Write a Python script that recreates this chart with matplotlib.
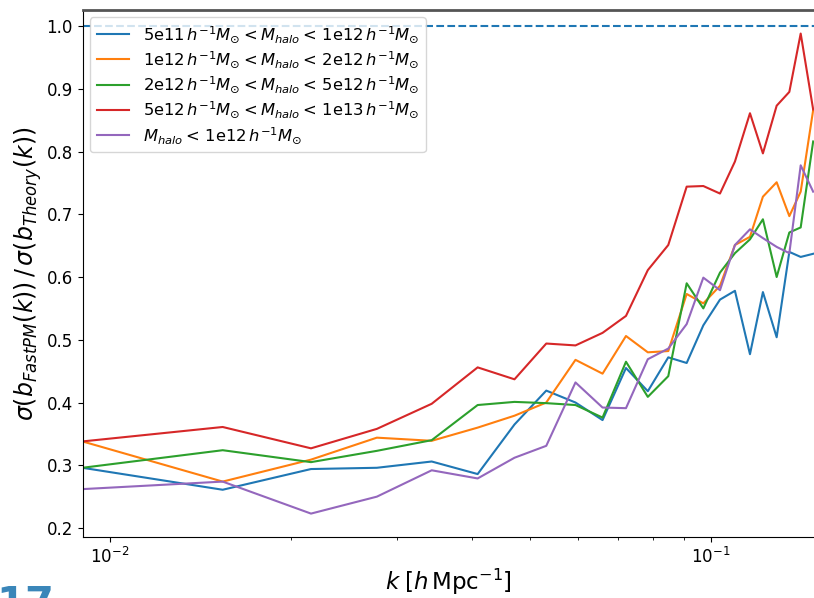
import numpy as np
import matplotlib
matplotlib.use("Agg")
import matplotlib.pyplot as plt

k = [0.0090, 0.0154, 0.0216, 0.0278, 0.0343, 0.0409, 0.0471, 0.0532, 0.0595,
     0.0660, 0.0722, 0.0785, 0.0849, 0.0911, 0.0971, 0.1035, 0.1096, 0.1161,
     0.1220, 0.1286, 0.1350, 0.1410, 0.1479]

blue = [0.296, 0.261, 0.294, 0.296, 0.306, 0.286, 0.365, 0.419, 0.400, 0.372,
        0.455, 0.418, 0.472, 0.463, 0.523, 0.564, 0.578, 0.477, 0.576, 0.504,
        0.640, 0.632, 0.637]
orange = [0.338, 0.274, 0.309, 0.344, 0.339, 0.360, 0.379, 0.400, 0.468, 0.446,
          0.506, 0.480, 0.482, 0.573, 0.558, 0.586, 0.651, 0.664, 0.728, 0.751,
          0.697, 0.736, 0.866]
green = [0.296, 0.324, 0.305, 0.323, 0.340, 0.396, 0.401, 0.399, 0.396, 0.376,
         0.465, 0.409, 0.442, 0.590, 0.550, 0.607, 0.638, 0.660, 0.692, 0.600,
         0.671, 0.679, 0.816]
red = [0.338, 0.361, 0.327, 0.358, 0.398, 0.456, 0.437, 0.494, 0.491, 0.511,
       0.538, 0.611, 0.651, 0.744, 0.745, 0.733, 0.784, 0.861, 0.797, 0.873,
       0.895, 0.988, 0.867]
purple = [0.262, 0.274, 0.223, 0.250, 0.292, 0.279, 0.312, 0.331, 0.432, 0.392,
          0.391, 0.469, 0.486, 0.525, 0.599, 0.579, 0.651, 0.676, 0.662, 0.648,
          0.638, 0.778, 0.736]

labels = [
    r'5e11$\,h^{-1}M_{\odot} < M_{halo} <\,$1e12$\,h^{-1}M_{\odot}$',
    r'1e12$\,h^{-1}M_{\odot} < M_{halo} <\,$2e12$\,h^{-1}M_{\odot}$',
    r'2e12$\,h^{-1}M_{\odot} < M_{halo} <\,$5e12$\,h^{-1}M_{\odot}$',
    r'5e12$\,h^{-1}M_{\odot} < M_{halo} <\,$1e13$\,h^{-1}M_{\odot}$',
    r'$M_{halo} <\,$1e12$\,h^{-1}M_{\odot}$',
]
series = [blue, orange, green, red, purple]
colors = ['#1f77b4', '#ff7f0e', '#2ca02c', '#d62728', '#9467bd']

W, H = 814, 598
fig = plt.figure(figsize=(W / 100, H / 100), dpi=100)
left_px, right_px, top_px, bot_px = 82.7, 814.5, 10, 537
ax = fig.add_axes([left_px / W, 1 - bot_px / H, (right_px - left_px) / W,
                   (bot_px - top_px) / H])

for y, c, lab in zip(series, colors, labels):
    ax.plot(k, y, color=c, lw=1.5, label=lab)
ax.axhline(1.0, color='#1f77b4', ls='--', lw=1.5)

ax.set_xscale('log')
ax.set_xlim(10 ** -2.0454, 10 ** -0.8278)
ax.set_ylim(0.1857, 1.0255)
ax.set_yticks([0.2, 0.3, 0.4, 0.5, 0.6, 0.7, 0.8, 0.9, 1.0])
ax.tick_params(labelsize=12)
ax.spines['right'].set_visible(False)
ax.spines['top'].set_color('#555555')
ax.spines['top'].set_linewidth(2)

ax.set_xlabel(r'$k\;[h\,\mathrm{Mpc}^{-1}]$', fontsize=16.5, labelpad=0)
ax.set_ylabel(r'$\sigma(b_{FastPM}(k))\,/\,\sigma(b_{Theory}(k))$', fontsize=17,
              labelpad=2)

ax.legend(loc='upper left', fontsize=11.8, labelspacing=0.28,
          handlelength=2.0, borderpad=0.4, borderaxespad=0.45)

fig.text(-0.004, 1 - 584 / H, '17', fontsize=30, color='#3a86b9',
         fontweight='bold', va='top', ha='left')

fig.savefig('out.png', dpi=100)
